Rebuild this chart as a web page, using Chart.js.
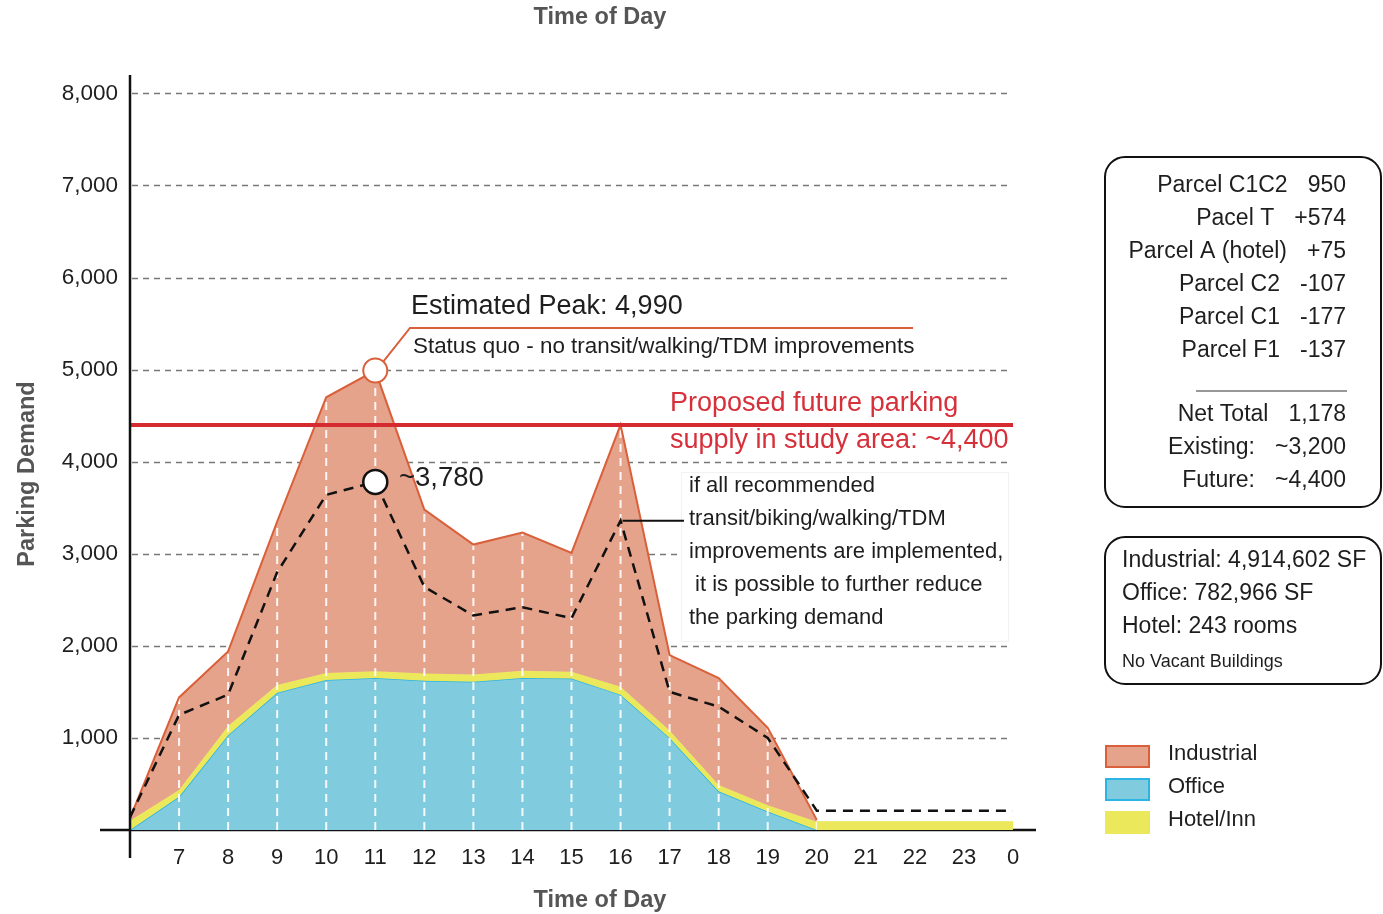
<!DOCTYPE html>
<html>
<head>
<meta charset="utf-8">
<title>Parking Demand by Time of Day</title>
<script src="https://cdn.jsdelivr.net/npm/chart.js@4.4.0/dist/chart.umd.min.js"></script>
<style>
  html, body { margin: 0; padding: 0; background: #fff; }
  #wrap { width: 1383px; height: 914px; }
</style>
</head>
<body>
<div id="wrap"><canvas id="demandChart" width="1383" height="914"></canvas></div>
<script>
// Hourly parking demand by land use, 6:00 through midnight (24 = 0:00)
const hours = [6, 7, 8, 9, 10, 11, 12, 13, 14, 15, 16, 17, 18, 19, 20, 21, 22, 23, 24];
const hourLabels = ['', '7', '8', '9', '10', '11', '12', '13', '14', '15', '16', '17', '18', '19', '20', '21', '22', '23', '0'];

const office     = [0, 360, 1030, 1490, 1630, 1650, 1620, 1610, 1650, 1645, 1470, 1000, 420, 200, 0, 0, 0, 0, 0];
const hotel      = [100, 75, 100, 85, 75, 75, 80, 80, 80, 75, 85, 80, 70, 70, 90, 90, 90, 90, 90];
const industrial = [30, 1005, 810, 1775, 2995, 3265, 1780, 1410, 1500, 1290, 2845, 820, 1160, 840, 20, null, null, null, null];
// demand if all transit/biking/walking/TDM measures go in
const withTdm    = [140, 1250, 1470, 2800, 3640, 3780, 2640, 2330, 2420, 2300, 3360, 1500, 1340, 1000, 210, 210, 210, 210, 210];

const futureSupply = 4400;
const peakHour = 11;
const tdmHour = 16;
const yTicks = [1000, 2000, 3000, 4000, 5000, 6000, 7000, 8000];

const parcels = [
    ['Parcel C1C2', '950'],
    ['Pacel T', '+574'],
    ['Parcel A (hotel)', '+75'],
    ['Parcel C2', '-107'],
    ['Parcel C1', '-177'],
    ['Parcel F1', '-137']
];
const totals = [
    ['Net Total', '1,178'],
    ['Existing:', '~3,200'],
    ['Future:', '~4,400']
];
const buildingStock = ['Industrial: 4,914,602 SF', 'Office: 782,966 SF', 'Hotel: 243 rooms'];

const COLORS = {
    indFill: '#e6a38b', indLine: '#d9603a',
    offFill: '#80cbdd', offLine: '#2bb4e4',
    hotel: '#ece85c',
    supply: '#d42a30',
    text: '#1e1e1e', title: '#555555', grid: '#777777'
};
const FONT = "'Liberation Sans', Arial, sans-serif";

// stacked tops, built from the land-use series
const officeTop = office.slice();
const hotelTop = office.map((v, i) => v + hotel[i]);
const totalTop = hotelTop.map((v, i) => industrial[i] === null ? null : v + industrial[i]);

const pts = arr => hours.map((h, i) => ({ x: h, y: arr[i] }));
const peakIdx = hours.indexOf(peakHour);

const decor = {
    id: 'decor',
    beforeDatasetsDraw(chart) {
        const { ctx, chartArea, scales: { x, y } } = chart;
        ctx.save();
        // dashed horizontal grid
        ctx.strokeStyle = COLORS.grid;
        ctx.lineWidth = 1.5;
        ctx.setLineDash([6, 5]);
        yTicks.forEach(v => {
            const py = Math.round(y.getPixelForValue(v)) + 0.5;
            ctx.beginPath();
            ctx.moveTo(chartArea.left + 2, py);
            ctx.lineTo(x.getPixelForValue(23.9), py);
            ctx.stroke();
        });
        // x axis
        ctx.setLineDash([]);
        ctx.strokeStyle = '#111';
        ctx.lineWidth = 2.5;
        ctx.beginPath();
        ctx.moveTo(100, y.getPixelForValue(0));
        ctx.lineTo(1036, y.getPixelForValue(0));
        ctx.stroke();
        ctx.restore();
    },
    beforeDatasetDraw(chart, args) {
        // white hour lines inside the demand area
        if (args.index !== 2) return;
        const { ctx, scales: { x, y } } = chart;
        const meta = chart.getDatasetMeta(2);
        const base = y.getPixelForValue(0);
        ctx.save();
        ctx.beginPath();
        let first = null, last = null;
        meta.data.forEach((p, i) => {
            if (totalTop[i] === null) return;
            if (first === null) { first = p; ctx.moveTo(p.x, base); }
            ctx.lineTo(p.x, p.y);
            last = p;
        });
        ctx.lineTo(last.x, base);
        ctx.closePath();
        ctx.clip();
        ctx.strokeStyle = 'rgba(255,255,255,0.9)';
        ctx.lineWidth = 2;
        ctx.setLineDash([8, 6]);
        hours.slice(1).forEach(h => {
            const px = x.getPixelForValue(h);
            ctx.beginPath();
            ctx.moveTo(px, base);
            ctx.lineTo(px, chart.chartArea.top);
            ctx.stroke();
        });
        ctx.restore();
    },
    afterDraw(chart) {
        const { ctx, scales: { x, y } } = chart;
        ctx.save();
        ctx.textBaseline = 'middle';

        // y axis line
        ctx.strokeStyle = '#111';
        ctx.lineWidth = 2.5;
        ctx.beginPath();
        ctx.moveTo(x.getPixelForValue(6), 75);
        ctx.lineTo(x.getPixelForValue(6), 858);
        ctx.stroke();

        // axis titles
        ctx.fillStyle = COLORS.title;
        ctx.font = 'bold 23.5px ' + FONT;
        ctx.textAlign = 'center';
        ctx.fillText('Time of Day', 600, 18);
        ctx.fillText('Time of Day', 600, 901);
        ctx.save();
        ctx.translate(28, 474);
        ctx.rotate(-Math.PI / 2);
        ctx.fillText('Parking Demand', 0, 0);
        ctx.restore();

        // status quo peak callout
        const cx = x.getPixelForValue(peakHour);
        const cy = y.getPixelForValue(totalTop[peakIdx]);
        ctx.strokeStyle = COLORS.indLine;
        ctx.lineWidth = 2;
        ctx.beginPath();
        ctx.moveTo(cx + 8, cy - 9);
        ctx.lineTo(410, 328);
        ctx.lineTo(913, 328);
        ctx.stroke();
        ctx.textAlign = 'left';
        ctx.fillStyle = COLORS.text;
        ctx.font = '27px ' + FONT;
        ctx.fillText('Estimated Peak: 4,990', 411, 307);
        ctx.font = '22.4px ' + FONT;
        ctx.fillText('Status quo - no transit/walking/TDM improvements', 413, 347);
        ctx.font = '27.5px ' + FONT;
        ctx.fillText('~3,780', 399, 478);

        // future supply label
        ctx.fillStyle = '#d6303a';
        ctx.font = '27px ' + FONT;
        ctx.fillText('Proposed future parking', 670, 404);
        ctx.fillText('supply in study area: ~4,400', 670, 441);

        // TDM note
        ctx.fillStyle = '#fff';
        ctx.fillRect(681, 472, 327, 169);
        ctx.strokeStyle = '#f2f2f2';
        ctx.lineWidth = 1;
        ctx.strokeRect(681.5, 472.5, 327, 169);
        const ty = y.getPixelForValue(withTdm[hours.indexOf(tdmHour)]);
        ctx.strokeStyle = '#111';
        ctx.lineWidth = 2;
        ctx.beginPath();
        ctx.moveTo(x.getPixelForValue(tdmHour) + 2, ty);
        ctx.lineTo(684, ty);
        ctx.stroke();
        ctx.fillStyle = COLORS.text;
        ctx.font = '22px ' + FONT;
        ['if all recommended', 'transit/biking/walking/TDM', 'improvements are implemented,',
         ' it is possible to further reduce', 'the parking demand'].forEach((t, i) => {
            ctx.fillText(t, 689, 486 + i * 33);
        });

        // parcel summary box
        const box = (bx, by, bw, bh) => {
            ctx.beginPath();
            ctx.roundRect(bx, by, bw, bh, 20);
            ctx.strokeStyle = '#111';
            ctx.lineWidth = 2;
            ctx.stroke();
        };
        box(1105, 157, 276, 350);
        box(1105, 537, 276, 147);
        ctx.font = '23px ' + FONT;
        ctx.fillStyle = COLORS.text;
        const rowPair = (row, ry) => {
            ctx.textAlign = 'right';
            ctx.fillText(row[1], 1346, ry);
            ctx.fillText(row[0], 1346 - ctx.measureText(row[1]).width - 20, ry);
        };
        parcels.forEach((r, i) => rowPair(r, 186 + i * 33));
        totals.forEach((r, i) => rowPair(r, 415 + i * 33));
        ctx.strokeStyle = '#333';
        ctx.lineWidth = 1.2;
        ctx.beginPath();
        ctx.moveTo(1196, 391);
        ctx.lineTo(1347, 391);
        ctx.stroke();

        ctx.textAlign = 'left';
        buildingStock.forEach((t, i) => ctx.fillText(t, 1122, 561 + i * 33));
        ctx.font = '18px ' + FONT;
        ctx.fillText('No Vacant Buildings', 1122, 662);

        // legend
        const legend = [
            ['Industrial', COLORS.indFill, COLORS.indLine],
            ['Office', COLORS.offFill, COLORS.offLine],
            ['Hotel/Inn', COLORS.hotel, null]
        ];
        ctx.font = '22px ' + FONT;
        legend.forEach(([label, fill, line], i) => {
            const ly = 745 + i * 33;
            ctx.fillStyle = fill;
            ctx.fillRect(1105, ly, 45, 23);
            if (line) {
                ctx.strokeStyle = line;
                ctx.lineWidth = 2;
                ctx.strokeRect(1106, ly + 1, 43, 21);
            }
            ctx.fillStyle = COLORS.text;
            ctx.fillText(label, 1168, ly + 9);
        });
        ctx.restore();
    }
};

new Chart(document.getElementById('demandChart'), {
    type: 'line',
    data: {
        datasets: [
            {
                label: 'Office',
                data: pts(officeTop),
                fill: 'origin',
                backgroundColor: COLORS.offFill,
                borderColor: COLORS.offLine,
                borderWidth: 1.5,
                segment: { borderColor: c => c.p0.parsed.x >= 20 ? 'rgba(0,0,0,0)' : COLORS.offLine },
                pointRadius: 0,
                tension: 0,
                order: 4
            },
            {
                label: 'Hotel/Inn',
                data: pts(hotelTop),
                fill: '-1',
                backgroundColor: COLORS.hotel,
                borderColor: COLORS.hotel,
                borderWidth: 1,
                pointRadius: 0,
                tension: 0,
                order: 3
            },
            {
                label: 'Industrial',
                data: pts(totalTop),
                fill: '-1',
                backgroundColor: COLORS.indFill,
                borderColor: COLORS.indLine,
                borderWidth: 2,
                pointRadius: hours.map(h => h === peakHour ? 12 : 0),
                pointBackgroundColor: '#fff',
                pointBorderColor: COLORS.indLine,
                pointBorderWidth: 2,
                tension: 0,
                order: 2
            },
            {
                label: 'Future supply',
                data: pts(hours.map(() => futureSupply)),
                fill: false,
                borderColor: COLORS.supply,
                borderWidth: 4,
                pointRadius: 0,
                order: 1
            },
            {
                label: 'With TDM',
                data: pts(withTdm),
                fill: false,
                borderColor: '#111',
                borderWidth: 2.5,
                borderDash: [10, 7],
                pointRadius: hours.map(h => h === peakHour ? 12 : 0),
                pointBackgroundColor: '#fff',
                pointBorderColor: '#111',
                pointBorderWidth: 2.5,
                tension: 0,
                order: 0
            }
        ]
    },
    options: {
        responsive: false,
        animation: false,
        events: [],
        layout: { padding: { top: 75, right: 370, left: 0, bottom: 0 } },
        plugins: { legend: { display: false }, tooltip: { enabled: false } },
        scales: {
            x: {
                type: 'linear',
                min: 6,
                max: 24,
                afterBuildTicks: s => { s.ticks = hours.map(v => ({ value: v })); },
                afterFit: s => { s.height = 84; },
                ticks: {
                    autoSkip: false,
                    maxRotation: 0,
                    padding: 15,
                    color: COLORS.text,
                    font: { family: FONT, size: 22 },
                    callback: (v, i) => hourLabels[i]
                },
                grid: { display: false, drawTicks: false },
                border: { display: false }
            },
            y: {
                min: 0,
                max: 8200,
                afterBuildTicks: s => { s.ticks = yTicks.map(v => ({ value: v })); },
                afterFit: s => { s.width = 130; },
                ticks: {
                    padding: 12,
                    color: COLORS.text,
                    font: { family: FONT, size: 22.5 },
                    callback: v => v.toLocaleString('en-US')
                },
                grid: { display: false, drawTicks: false },
                border: { display: false }
            }
        }
    },
    plugins: [decor]
});
</script>
</body>
</html>
